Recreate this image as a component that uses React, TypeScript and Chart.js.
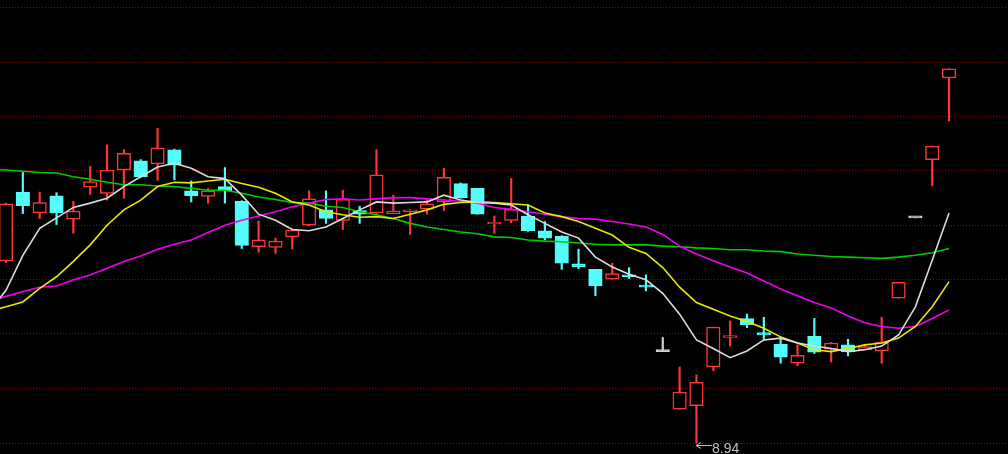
import { useEffect, useRef } from "react";
import { Chart, registerables } from "chart.js";

Chart.register(...registerables);

// Daily candles, oldest first (index 0 is the leftmost visible candle)
const opens = [11.91, 13.03, 12.69, 12.97, 12.59, 13.11, 13.01, 13.39, 13.54, 13.49, 13.72, 13.05, 12.96, 13.12, 12.88, 12.14, 12.13, 12.30, 12.49, 12.74, 12.57, 12.73, 12.69, 12.68, 12.71, 12.75, 12.87, 13.17, 13.09, 12.51, 12.57, 12.64, 12.40, 12.31, 11.86, 11.77, 11.61, 11.66, 11.50, 10.43, 9.49, 9.55, 10.18, 10.66, 10.97, 10.74, 10.55, 10.24, 10.68, 10.47, 10.54, 10.46, 10.44, 11.30, 12.61, 13.56, 14.89];
const highs = [12.85, 13.35, 13.03, 13.02, 12.88, 13.45, 13.80, 13.72, 13.56, 14.07, 13.73, 13.21, 13.09, 13.43, 12.89, 12.56, 12.28, 12.43, 13.05, 13.05, 13.06, 12.80, 13.72, 12.98, 12.74, 12.90, 13.42, 13.18, 13.09, 12.64, 13.25, 12.82, 12.55, 12.32, 12.10, 11.77, 11.87, 11.80, 11.68, 10.66, 10.18, 10.05, 10.83, 10.93, 11.04, 10.99, 10.67, 10.54, 10.97, 10.58, 10.63, 10.55, 10.99, 11.56, 12.61, 13.78, 15.04];
const lows = [11.88, 12.68, 12.60, 12.50, 12.36, 12.99, 12.90, 12.93, 13.27, 13.22, 13.23, 12.87, 12.85, 12.85, 12.11, 12.05, 12.03, 12.10, 12.48, 12.52, 12.42, 12.52, 12.68, 12.68, 12.34, 12.67, 12.73, 12.93, 12.67, 12.36, 12.53, 12.39, 12.25, 11.77, 11.78, 11.34, 11.61, 11.62, 11.42, 10.43, 9.49, 8.94, 10.12, 10.52, 10.82, 10.62, 10.24, 10.20, 10.40, 10.26, 10.36, 10.46, 10.24, 11.30, 12.61, 13.13, 14.19];
const closes = [12.84, 12.81, 12.86, 12.69, 12.72, 13.20, 13.39, 13.66, 13.28, 13.75, 13.47, 12.97, 13.05, 13.05, 12.16, 12.25, 12.23, 12.41, 12.92, 12.60, 12.91, 12.67, 13.31, 12.72, 12.74, 12.84, 13.27, 12.94, 12.67, 12.54, 12.75, 12.40, 12.28, 11.87, 11.81, 11.50, 11.70, 11.65, 11.48, 10.43, 9.77, 9.93, 10.83, 10.68, 10.87, 10.70, 10.34, 10.37, 10.42, 10.57, 10.43, 10.51, 10.58, 11.56, 12.61, 13.78, 15.04];

// Moving averages, first value belongs to the day before candle 0
const maStart = -1;
const ma5 = [11.08, 11.43, 12.00, 12.44, 12.61, 12.78, 12.85, 12.93, 13.12, 13.28, 13.44, 13.50, 13.42, 13.28, 13.25, 12.98, 12.67, 12.57, 12.42, 12.40, 12.46, 12.60, 12.74, 12.87, 12.85, 12.86, 12.87, 12.98, 12.90, 12.86, 12.85, 12.82, 12.66, 12.52, 12.38, 12.28, 11.97, 11.81, 11.69, 11.60, 11.38, 11.04, 10.62, 10.48, 10.33, 10.44, 10.62, 10.65, 10.57, 10.52, 10.48, 10.43, 10.46, 10.52, 10.70, 11.16, 11.92, 12.69];
const ma10 = [11.09, 11.16, 11.24, 11.46, 11.65, 11.90, 12.17, 12.49, 12.74, 12.90, 13.12, 13.19, 13.18, 13.21, 13.24, 13.17, 13.11, 13.01, 12.87, 12.82, 12.71, 12.66, 12.62, 12.63, 12.60, 12.67, 12.74, 12.83, 12.86, 12.87, 12.86, 12.84, 12.82, 12.69, 12.63, 12.55, 12.44, 12.33, 12.13, 12.03, 11.80, 11.48, 11.23, 11.12, 11.01, 10.92, 10.81, 10.67, 10.57, 10.46, 10.43, 10.48, 10.54, 10.57, 10.65, 10.84, 11.16, 11.57];
const ma20 = [11.25, 11.33, 11.41, 11.48, 11.50, 11.60, 11.68, 11.79, 11.90, 11.99, 12.10, 12.18, 12.25, 12.37, 12.49, 12.57, 12.64, 12.71, 12.79, 12.85, 12.91, 12.92, 12.90, 12.92, 12.94, 12.94, 12.92, 12.90, 12.88, 12.85, 12.78, 12.75, 12.71, 12.67, 12.63, 12.60, 12.59, 12.55, 12.51, 12.46, 12.34, 12.15, 12.02, 11.91, 11.81, 11.71, 11.58, 11.45, 11.34, 11.23, 11.14, 11.01, 10.90, 10.84, 10.81, 10.84, 10.97, 11.11];
const ma60 = [13.40, 13.39, 13.37, 13.35, 13.34, 13.28, 13.24, 13.19, 13.15, 13.15, 13.13, 13.12, 13.09, 13.06, 13.06, 13.01, 12.95, 12.91, 12.86, 12.85, 12.80, 12.78, 12.71, 12.66, 12.60, 12.52, 12.46, 12.42, 12.38, 12.35, 12.30, 12.29, 12.25, 12.23, 12.22, 12.20, 12.18, 12.17, 12.17, 12.17, 12.15, 12.14, 12.12, 12.11, 12.09, 12.09, 12.07, 12.06, 12.02, 12.00, 11.98, 11.97, 11.96, 11.95, 11.97, 12.00, 12.04, 12.11];

// Price grid levels (dotted lines)
const gridLevels = [16.04, 15.15, 14.27, 13.38, 12.49, 11.60, 10.72, 9.83, 8.94];
const priceMin = 8.761;
const priceMax = 16.161;
const xMin = -0.356;
const xMax = 59.5;
const lowLabel = "8.94";

const RED = "#ff3636";
const CYAN = "#54fcfc";
const FLAT = "#d4d4d4";

export default function App() {
  const ref = useRef<HTMLCanvasElement | null>(null);

  useEffect(() => {
    document.body.style.margin = "0";
    document.body.style.background = "#000";
    const canvas = ref.current;
    if (!canvas) return;

    const colorOf = (i: number) =>
      closes[i] > opens[i] ? RED : closes[i] < opens[i] ? CYAN : FLAT;
    const candleColors = opens.map((_, i) => colorOf(i));
    const bodyFill = opens.map((_, i) => (closes[i] > opens[i] ? "#000000" : colorOf(i)));

    const wickData = opens.map((_, i) => ({ x: i, y: [lows[i], highs[i]] }));
    const bodyData = opens.map((_, i) => ({ x: i, y: [opens[i], closes[i]] }));
    const maLine = (arr: number[]) => arr.map((v, k) => ({ x: k + maStart, y: v }));

    const bgPlugin = {
      id: "bg",
      beforeDraw(chart: any) {
        const c = chart.ctx;
        c.save();
        c.fillStyle = "#000";
        c.fillRect(0, 0, chart.width, chart.height);
        c.restore();
      },
    };

    const lowPlugin = {
      id: "lowMarker",
      afterDatasetsDraw(chart: any) {
        const xs = chart.scales.x;
        const ys = chart.scales.y;
        let li = 0;
        lows.forEach((v, i) => {
          if (v < lows[li]) li = i;
        });
        const px = Math.round(xs.getPixelForValue(li));
        const py = ys.getPixelForValue(lows[li]);
        const c = chart.ctx;
        c.save();
        c.strokeStyle = "#bdbdbd";
        c.lineWidth = 1;
        const ay = Math.round(py) + 2.5;
        c.beginPath();
        c.moveTo(px, ay);
        c.lineTo(px + 16, ay);
        c.moveTo(px + 5, ay - 3);
        c.lineTo(px, ay);
        c.lineTo(px + 5, ay + 3);
        c.stroke();
        c.fillStyle = "#bdbdbd";
        c.font = '14px "Liberation Sans", Arial, sans-serif';
        c.textBaseline = "alphabetic";
        c.textAlign = "left";
        c.fillText(lowLabel, px + 16, py + 9.5);
        c.restore();
      },
    };

    const maSet = (label: string, arr: number[], color: string) =>
      ({
        type: "line",
        label,
        data: maLine(arr),
        borderColor: color,
        borderWidth: 1.6,
        pointRadius: 0,
        tension: 0,
        order: 0,
      } as any);

    const chart = new Chart(canvas, {
      type: "bar",
      data: {
        datasets: [
          maSet("MA5", ma5, "#dcdcdc"),
          maSet("MA10", ma10, "#e8e800"),
          maSet("MA20", ma20, "#f000f0"),
          maSet("MA60", ma60, "#00cc00"),
          {
            type: "bar",
            label: "body",
            data: bodyData as any,
            backgroundColor: bodyFill,
            borderColor: candleColors,
            borderWidth: 1.5,
            borderSkipped: false,
            barThickness: 13.5,
            minBarLength: 2,
            grouped: false,
            order: 1,
          } as any,
          {
            type: "bar",
            label: "wick",
            data: wickData as any,
            backgroundColor: candleColors,
            borderWidth: 0,
            barThickness: 1.5,
            grouped: false,
            order: 2,
          } as any,
        ],
      },
      options: {
        responsive: false,
        animation: false,
        devicePixelRatio: 1,
        layout: { padding: 0 },
        plugins: {
          legend: { display: false },
          tooltip: { enabled: false },
        },
        scales: {
          x: {
            type: "linear",
            min: xMin,
            max: xMax,
            offset: false,
            display: false,
          },
          y: {
            type: "linear",
            min: priceMin,
            max: priceMax,
            display: true,
            afterBuildTicks: (scale: any) => {
              scale.ticks = gridLevels.map((v) => ({ value: v }));
            },
            ticks: { display: false },
            grid: {
              color: "#a80000",
              lineWidth: 1,
              drawTicks: false,
            },
            border: { display: false, dash: [1, 2] },
          },
        },
      } as any,
      plugins: [bgPlugin, lowPlugin],
    });

    return () => chart.destroy();
  }, []);

  return (
    <div style={{ width: 1008, height: 454, background: "#000" }}>
      <canvas ref={ref} width={1008} height={454} style={{ display: "block" }} />
    </div>
  );
}
